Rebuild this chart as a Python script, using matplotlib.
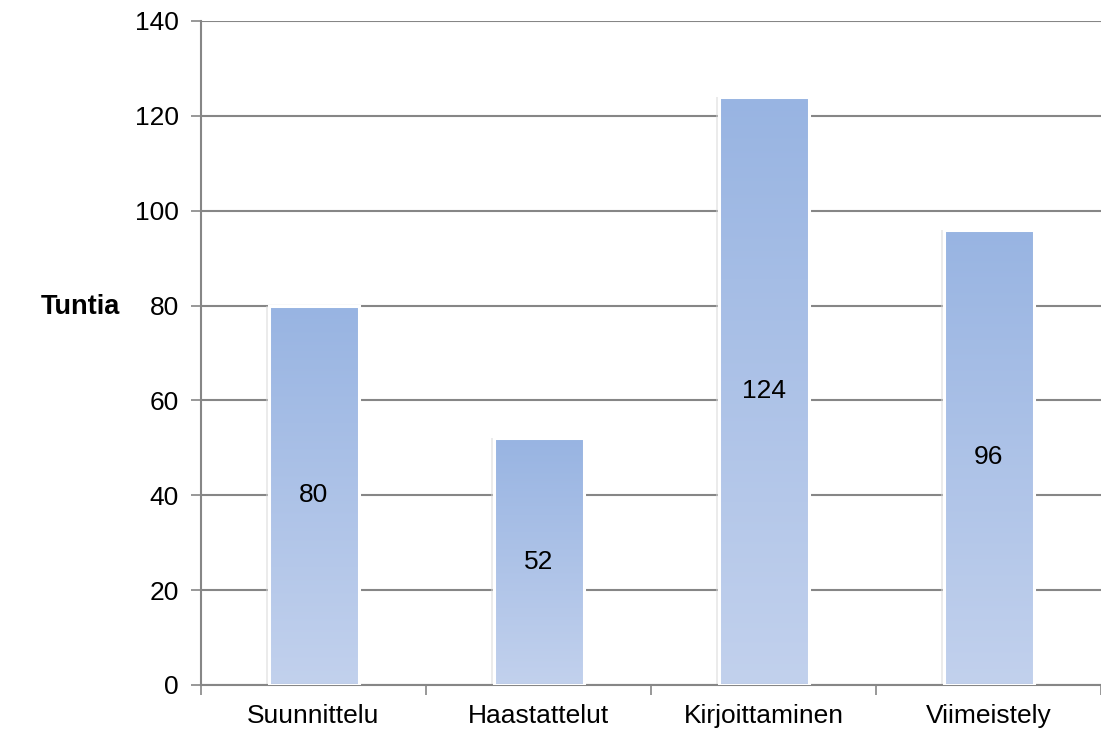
import numpy as np
import matplotlib
matplotlib.use("Agg")
from matplotlib import pyplot as plt
from matplotlib.colors import LinearSegmentedColormap

categories = ["Suunnittelu", "Haastattelut", "Kirjoittaminen", "Viimeistely"]
hours = [80, 52, 124, 96]
y_ticks = [0, 20, 40, 60, 80, 100, 120, 140]

plt.rcParams['font.family'] = ['Liberation Sans', 'DejaVu Sans']

fig = plt.figure(figsize=(11.01, 7.31), dpi=100)
ax = fig.add_axes([201 / 1101, 46 / 731, 900 / 1101, 664 / 731])

x = np.arange(len(categories))
bars = ax.bar(x, hours, width=0.4, facecolor='none', edgecolor='white',
              linewidth=2.2, zorder=3)

cmap = LinearSegmentedColormap.from_list("bar", ["#c2d1ed", "#98b4e2"])
grad = np.linspace(0, 1, 256).reshape(-1, 1)
for b in bars:
    x0, w, h = b.get_x(), b.get_width(), b.get_height()
    # soft shadow
    ax.bar(x0 + w / 2, h, width=w * 1.06, color='#d9d9d9', alpha=0.5,
           zorder=2, linewidth=0)
    im = ax.imshow(grad, cmap=cmap, origin='lower', aspect='auto',
                   extent=(x0, x0 + w, 0, h), zorder=2.5)
    im.set_clip_path(b)
    ax.text(x0 + w / 2, h / 2, str(h), ha='center', va='center',
            fontsize=19, zorder=4)

ax.set_xlim(-0.5, len(categories) - 0.5)
ax.set_ylim(0, 140)
ax.set_yticks(y_ticks)
ax.set_xticks(np.arange(len(categories) + 1) - 0.5, minor=False)
ax.set_xticklabels([])
ax.set_xticks(x, minor=True)
ax.set_xticklabels(categories, minor=True)
ax.tick_params(axis='x', which='minor', length=0, pad=14, labelsize=19)
ax.tick_params(axis='x', which='major', length=7, width=1.2, color='#868686',
               direction='out')
ax.tick_params(axis='y', length=7, width=1.2, color='#868686', pad=9,
               labelsize=19)

ax.grid(axis='y', color='#868686', linewidth=1.5, zorder=1)
ax.set_axisbelow(True)
for side in ['top', 'right']:
    ax.spines[side].set_visible(False)
for side in ['left', 'bottom']:
    ax.spines[side].set_color('#868686')
    ax.spines[side].set_linewidth(1.5)

fig.text(80 / 1101, 1 - 307 / 731, "Tuntia", ha='center', va='center',
         fontsize=19.5, fontweight='bold')

fig.savefig("out.png", dpi=100)
